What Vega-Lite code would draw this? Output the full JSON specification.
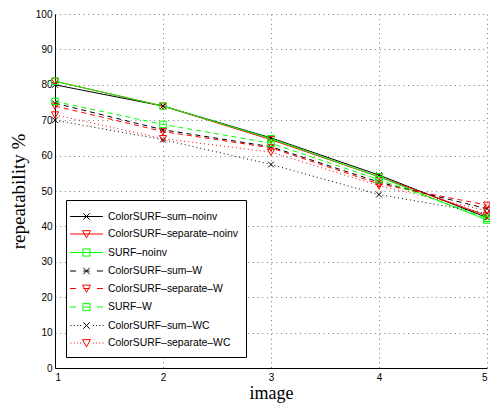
{
  "$schema": "https://vega.github.io/schema/vega-lite/v6.json",
  "width": 432,
  "height": 354,
  "autosize": "none",
  "padding": {"left": 55, "top": 14, "right": 3, "bottom": 40},
  "background": "white",
  "config": {
    "view": {"stroke": null},
    "axis": {
      "domainColor": "black",
      "domainWidth": 1,
      "gridColor": "#555555",
      "gridDash": [1, 3.7],
      "gridWidth": 1,
      "gridOpacity": 0.8,
      "tickSize": 0,
      "labelFont": "Liberation Sans",
      "labelFontSize": 10,
      "labelColor": "black",
      "titleFont": "Liberation Serif",
      "titleFontSize": 19,
      "titleFontWeight": "normal",
      "titleColor": "black"
    },
    "legend": {
      "orient": "none",
      "legendX": 11,
      "legendY": 186,
      "fillColor": "white",
      "strokeColor": "black",
      "padding": 8,
      "symbolSize": 256,
      "symbolStrokeWidth": 1,
      "symbolOpacity": 1,
      "symbolFillColor": "transparent",
      "symbolOffset": 4,
      "labelOffset": 13,
      "rowPadding": 3.5,
      "labelFont": "Liberation Sans",
      "labelFontSize": 10.4,
      "labelColor": "black",
      "labelLimit": 400
    }
  },
  "data": {
    "values": [
      {"series": "ColorSURF–sum–noinv", "image": 1, "value": 80},
      {"series": "ColorSURF–sum–noinv", "image": 2, "value": 74},
      {"series": "ColorSURF–sum–noinv", "image": 3, "value": 65},
      {"series": "ColorSURF–sum–noinv", "image": 4, "value": 54.5},
      {"series": "ColorSURF–sum–noinv", "image": 5, "value": 42.5},
      {"series": "ColorSURF–separate–noinv", "image": 1, "value": 81},
      {"series": "ColorSURF–separate–noinv", "image": 2, "value": 74},
      {"series": "ColorSURF–separate–noinv", "image": 3, "value": 64.5},
      {"series": "ColorSURF–separate–noinv", "image": 4, "value": 54},
      {"series": "ColorSURF–separate–noinv", "image": 5, "value": 43},
      {"series": "SURF–noinv", "image": 1, "value": 81},
      {"series": "SURF–noinv", "image": 2, "value": 74},
      {"series": "SURF–noinv", "image": 3, "value": 64.8},
      {"series": "SURF–noinv", "image": 4, "value": 54},
      {"series": "SURF–noinv", "image": 5, "value": 41.8},
      {"series": "ColorSURF–sum–W", "image": 1, "value": 74.8},
      {"series": "ColorSURF–sum–W", "image": 2, "value": 67.3},
      {"series": "ColorSURF–sum–W", "image": 3, "value": 62.5},
      {"series": "ColorSURF–sum–W", "image": 4, "value": 52.5},
      {"series": "ColorSURF–sum–W", "image": 5, "value": 45},
      {"series": "ColorSURF–separate–W", "image": 1, "value": 74},
      {"series": "ColorSURF–separate–W", "image": 2, "value": 66.8},
      {"series": "ColorSURF–separate–W", "image": 3, "value": 62.2},
      {"series": "ColorSURF–separate–W", "image": 4, "value": 52},
      {"series": "ColorSURF–separate–W", "image": 5, "value": 46},
      {"series": "SURF–W", "image": 1, "value": 75.3},
      {"series": "SURF–W", "image": 2, "value": 68.8},
      {"series": "SURF–W", "image": 3, "value": 63.5},
      {"series": "SURF–W", "image": 4, "value": 53.2},
      {"series": "SURF–W", "image": 5, "value": 42.3},
      {"series": "ColorSURF–sum–WC", "image": 1, "value": 70},
      {"series": "ColorSURF–sum–WC", "image": 2, "value": 64.5},
      {"series": "ColorSURF–sum–WC", "image": 3, "value": 57.5},
      {"series": "ColorSURF–sum–WC", "image": 4, "value": 49},
      {"series": "ColorSURF–sum–WC", "image": 5, "value": 43.7},
      {"series": "ColorSURF–separate–WC", "image": 1, "value": 71.5},
      {"series": "ColorSURF–separate–WC", "image": 2, "value": 64.8},
      {"series": "ColorSURF–separate–WC", "image": 3, "value": 61},
      {"series": "ColorSURF–separate–WC", "image": 4, "value": 51.5},
      {"series": "ColorSURF–separate–WC", "image": 5, "value": 44.4}
    ]
  },
  "encoding": {
    "x": {
      "field": "image", "type": "quantitative",
      "scale": {"domain": [1, 5], "nice": false, "zero": false},
      "axis": {
        "values": [1, 2, 3, 4, 5], "format": "d", "title": "image",
        "labelPadding": 4, "titleX": 216, "titleY": 25, "titleBaseline": "middle",
        "titleFontSize": 18
      }
    },
    "y": {
      "field": "value", "type": "quantitative",
      "scale": {"domain": [0, 100], "nice": false},
      "axis": {
        "values": [0, 10, 20, 30, 40, 50, 60, 70, 80, 90, 100], "title": "repeatability %",
        "labelPadding": 3, "titleX": -37, "titleY": 177, "titleAngle": -90,
        "titleBaseline": "middle", "titleAlign": "center"
      }
    },
    "color": {
      "field": "series", "type": "nominal",
      "legend": {"title": null},
      "scale": {
        "domain": ["ColorSURF–sum–noinv", "ColorSURF–separate–noinv", "SURF–noinv", "ColorSURF–sum–W", "ColorSURF–separate–W", "SURF–W", "ColorSURF–sum–WC", "ColorSURF–separate–WC"],
        "range": ["#000000", "#ff0000", "#00ff00", "#000000", "#ff0000", "#00ff00", "#000000", "#ff0000"]
      }
    }
  },
  "layer": [
    {
      "mark": {"type": "point", "filled": false, "opacity": 0, "strokeWidth": 1},
      "encoding": {
        "shape": {
          "field": "series", "type": "nominal",
          "legend": {"title": null},
          "scale": {
            "domain": ["ColorSURF–sum–noinv", "ColorSURF–separate–noinv", "SURF–noinv", "ColorSURF–sum–W", "ColorSURF–separate–W", "SURF–W", "ColorSURF–sum–WC", "ColorSURF–separate–WC"],
            "range": [
              "M-2.06,0H2.06M-0.4,-0.4L0.4,0.4M-0.4,0.4L0.4,-0.4",
              "M-2.06,0H2.06M-0.5,-0.42L0.5,-0.42L0,0.48Z",
              "M-2.06,0H2.06M-0.45,-0.45H0.45V0.45H-0.45Z",
              "M-2.06,0H-1.3M-0.4,0H0.4M1.3,0H2.06M-0.4,-0.4L0.4,0.4M-0.4,0.4L0.4,-0.4",
              "M-2.06,0H-1.3M-0.4,0H0.4M1.3,0H2.06M-0.5,-0.42L0.5,-0.42L0,0.48Z",
              "M-2.06,0H-1.3M-0.4,0H0.4M1.3,0H2.06M-0.45,-0.45H0.45V0.45H-0.45Z",
              "M-2,0h0.12M-1.6,0h0.12M-1.2,0h0.12M-0.8,0h0.12M0.8,0h0.12M1.2,0h0.12M1.6,0h0.12M2,0h0.12M-0.4,-0.4L0.4,0.4M-0.4,0.4L0.4,-0.4",
              "M-2,0h0.12M-1.6,0h0.12M-1.2,0h0.12M-0.8,0h0.12M0.8,0h0.12M1.2,0h0.12M1.6,0h0.12M2,0h0.12M-0.5,-0.42L0.5,-0.42L0,0.48Z"
            ]
          }
        }
      }
    },
    {
      "transform": [{"filter": "test(/noinv$/, datum.series)"}],
      "mark": {"type": "line", "strokeWidth": 1}
    },
    {
      "transform": [{"filter": "test(/–W$/, datum.series)"}],
      "mark": {"type": "line", "strokeWidth": 1, "strokeDash": [5, 4]}
    },
    {
      "transform": [{"filter": "test(/WC$/, datum.series)"}],
      "mark": {"type": "line", "strokeWidth": 1, "strokeDash": [1, 3]}
    },
    {
      "transform": [{"filter": "test(/–sum–/, datum.series)"}],
      "mark": {"type": "point", "filled": false, "strokeWidth": 1, "size": 52, "opacity": 1, "shape": "M-0.8,-0.8L0.8,0.8M-0.8,0.8L0.8,-0.8"}
    },
    {
      "transform": [{"filter": "test(/–separate–/, datum.series)"}],
      "mark": {"type": "point", "filled": false, "strokeWidth": 1, "size": 52, "opacity": 1, "shape": "M-1,-0.85L1,-0.85L0,0.95Z"}
    },
    {
      "transform": [{"filter": "test(/^SURF/, datum.series)"}],
      "mark": {"type": "point", "filled": false, "strokeWidth": 1, "size": 52, "opacity": 1, "shape": "M-0.9,-0.9H0.9V0.9H-0.9Z"}
    }
  ]
}
